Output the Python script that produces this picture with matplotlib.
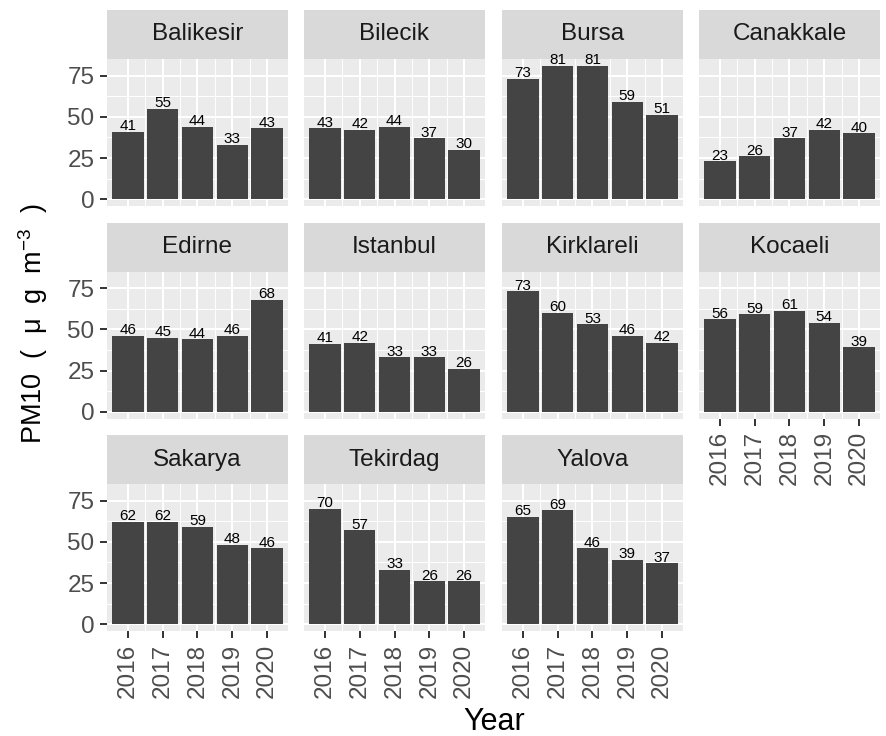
import matplotlib
matplotlib.use('Agg')
import numpy as np
import matplotlib.pyplot as plt

plt.rcParams['font.family'] = ['Liberation Sans', 'DejaVu Sans']
plt.rcParams['mathtext.fontset'] = 'custom'
plt.rcParams['mathtext.rm'] = 'Liberation Sans'
plt.rcParams['mathtext.it'] = 'Liberation Sans:italic'

years = [2016, 2017, 2018, 2019, 2020]
sites = ['Balikesir', 'Bilecik', 'Bursa', 'Canakkale', 'Edirne', 'Istanbul',
         'Kirklareli', 'Kocaeli', 'Sakarya', 'Tekirdag', 'Yalova']

balikesir = [41, 55, 44, 33, 43]
bilecik = [43, 42, 44, 37, 30]
bursa = [73, 81, 81, 59, 51]
canakkale = [23, 26, 37, 42, 40]
edirne = [46, 45, 44, 46, 68]
istanbul = [41, 42, 33, 33, 26]
kirklareli = [73, 60, 53, 46, 42]
kocaeli = [56, 59, 61, 54, 39]
sakarya = [62, 62, 59, 48, 46]
tekirdag = [70, 57, 33, 26, 26]
yalova = [65, 69, 46, 39, 37]
pm10 = [balikesir, bilecik, bursa, canakkale, edirne, istanbul,
        kirklareli, kocaeli, sakarya, tekirdag, yalova]

W, H = 887, 736
fig = plt.figure(figsize=(W / 100, H / 100), dpi=100)

col_left = [107, 304, 502, 699]
row_top = [10, 222.5, 435]
pw, ph, sh = 181, 147, 49

ymax = max(max(v) for v in pm10)
ylim = (-0.05 * ymax, 1.05 * ymax)

def fbox(x, y, w, h):
    # pixel box (top-left origin) -> figure fraction rect
    return [x / W, 1 - (y + h) / H, w / W, h / H]

for i, (site, vals) in enumerate(zip(sites, pm10)):
    r, c = divmod(i, 4)
    x0, y0 = col_left[c], row_top[r]

    st = fig.add_axes(fbox(x0, y0, pw, sh))
    st.set_facecolor('#D9D9D9')
    st.set_xticks([]); st.set_yticks([])
    for s in st.spines.values():
        s.set_visible(False)
    st.text(0.5, 0.5, site, ha='center', va='center', fontsize=17.5,
            color='#1A1A1A', transform=st.transAxes)

    ax = fig.add_axes(fbox(x0, y0 + sh, pw, ph))
    ax.set_facecolor('#EBEBEB')
    for s in ax.spines.values():
        s.set_visible(False)
    ax.set_xlim(years[0] - 0.6, years[-1] + 0.6)
    ax.set_ylim(*ylim)
    ax.set_xticks(years)
    ax.set_xticks(np.array(years[:-1]) + 0.5, minor=True)
    ax.set_yticks([0, 25, 50, 75])
    ax.set_yticks([12.5, 37.5, 62.5], minor=True)
    ax.grid(which='major', color='white', lw=1.5)
    ax.grid(which='minor', color='white', lw=0.7)
    ax.set_axisbelow(True)
    ax.tick_params(which='minor', length=0)
    ax.tick_params(which='major', length=5, width=1.4, color='#333333',
                   labelsize=17.5, labelcolor='#4D4D4D', pad=4)

    ax.bar(years, vals, width=0.9, color='#444444')
    for yr, v in zip(years, vals):
        ax.text(yr, v - 0.8, str(v), ha='center', va='bottom', fontsize=11,
                color='black')

    if c != 0:
        ax.tick_params(axis='y', left=False, labelleft=False)
    bottom_row = (r == 2) or (r == 1 and c == 3)
    if bottom_row:
        ax.set_xticklabels([str(y) for y in years], rotation=90)
    else:
        ax.tick_params(axis='x', bottom=False, labelbottom=False)

fig.text(33 / W, 1 - 324 / H, 'PM10  (  μ  g  m$^{-3}$  )', rotation=90,
         ha='center', va='center', fontsize=19.5)
fig.text(494 / W, 1 - 730 / H, 'Year', ha='center', va='baseline',
         fontsize=22)

fig.savefig('out.png', dpi=100)
